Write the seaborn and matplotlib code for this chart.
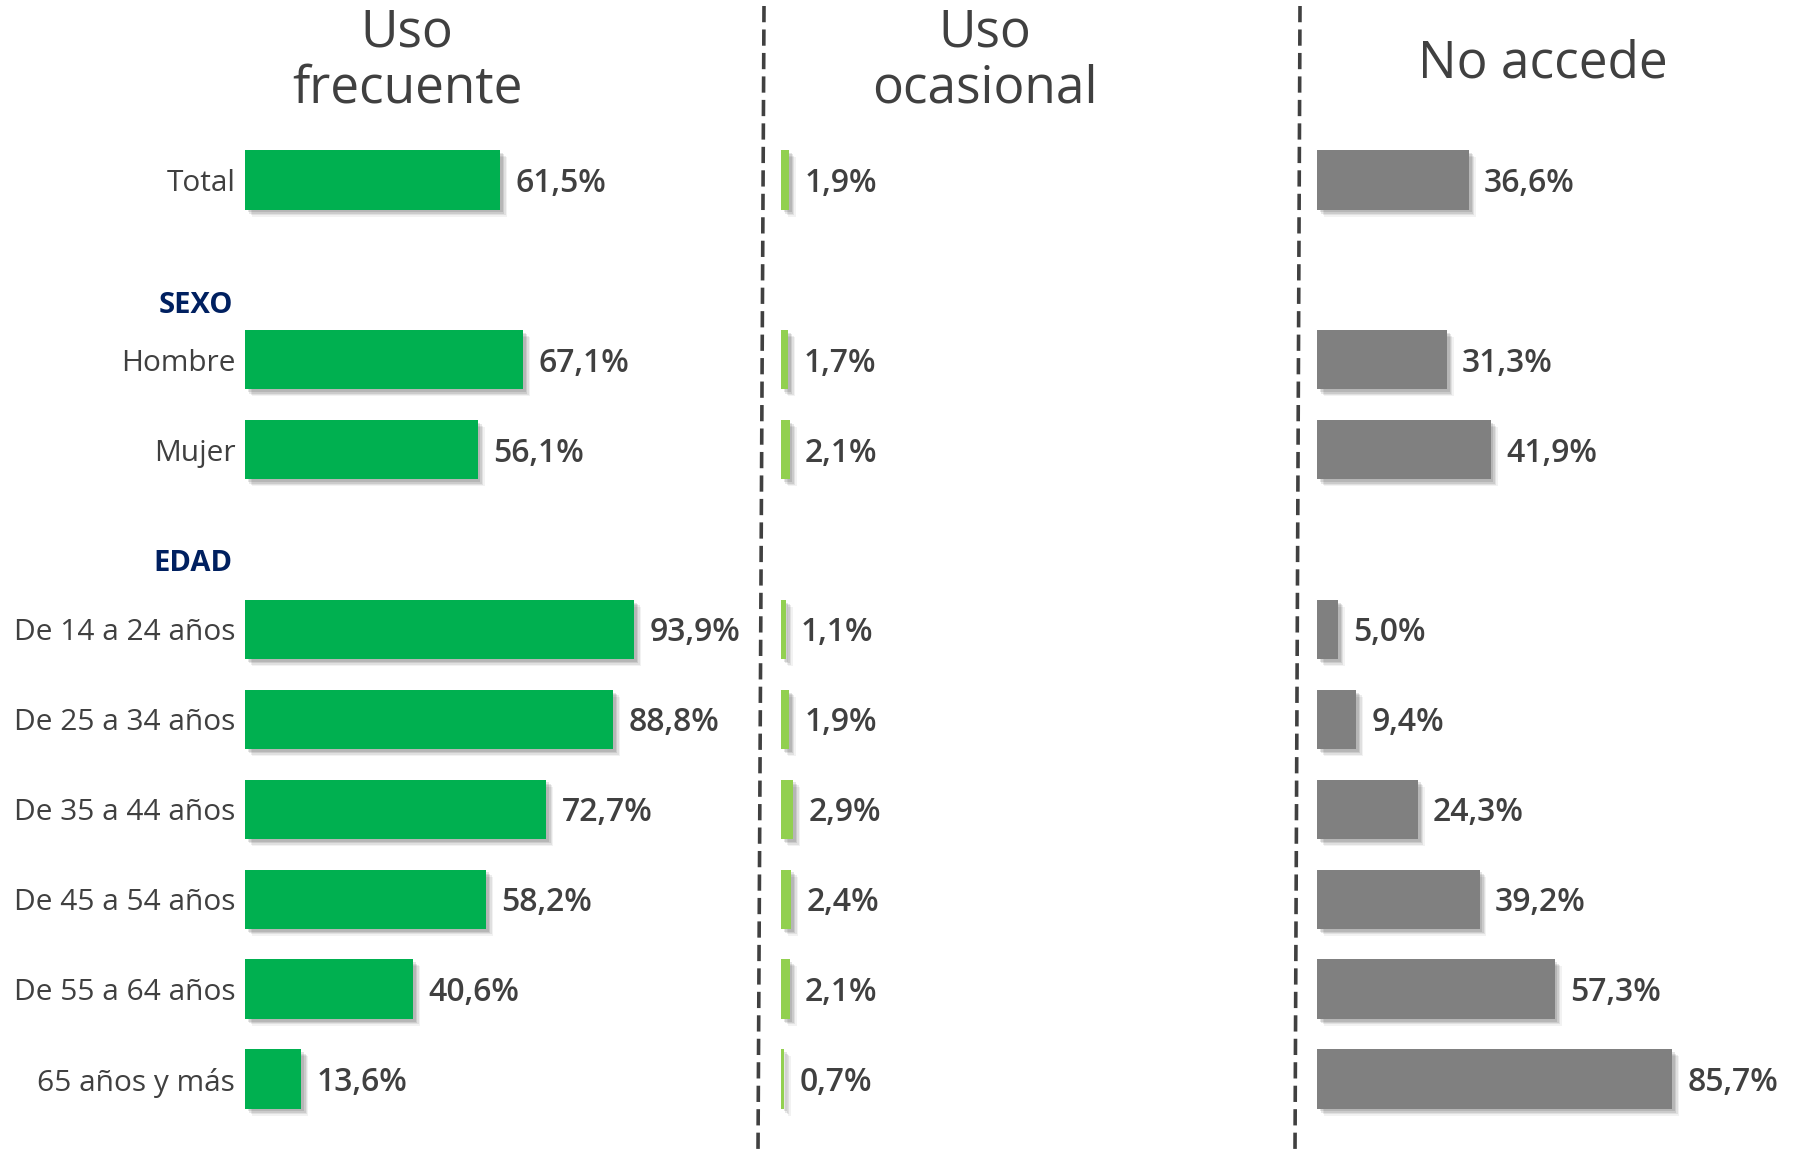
import numpy as np
import pandas as pd
import matplotlib
matplotlib.use("Agg")
import matplotlib.pyplot as plt
import matplotlib.patheffects as pe
import matplotlib.transforms as mtrans
from matplotlib.lines import Line2D
import seaborn as sns

# ---- data ----
categories = ["Total", "Hombre", "Mujer", "De 14 a 24 años", "De 25 a 34 años",
              "De 35 a 44 años", "De 45 a 54 años", "De 55 a 64 años", "65 años y más"]
uso_frecuente = [61.5, 67.1, 56.1, 93.9, 88.8, 72.7, 58.2, 40.6, 13.6]
uso_ocasional = [1.9, 1.7, 2.1, 1.1, 1.9, 2.9, 2.4, 2.1, 0.7]
no_accede = [36.6, 31.3, 41.9, 5.0, 9.4, 24.3, 39.2, 57.3, 85.7]
panel_titles = ["Uso\nfrecuente", "Uso\nocasional", "No accede"]
group_labels = ["SEXO", "EDAD"]

# row order with empty slots between groups
order = ["Total", "gap1", "Hombre", "Mujer", "gap2", "De 14 a 24 años", "De 25 a 34 años",
         "De 35 a 44 años", "De 45 a 54 años", "De 55 a 64 años", "65 años y más"]
tick_labels = [c if not c.startswith("gap") else "" for c in order]

sns.set_theme(style="white")
plt.rcParams["font.family"] = ["Open Sans", "DejaVu Sans"]

TXT = "#404040"
NAVY = "#002060"
colors = ["#00B050", "#92D050", "#808080"]

W, H = 1796, 1153
fig = plt.figure(figsize=(W / 100, H / 100), dpi=100)

scale = 4.146  # px per percent
ax_w = 100 * scale / W
top = 1 - 135 / H
bot = 1 - 1124 / H
lefts = [245 / W, 781 / W, 1317 / W]
series = [uso_frecuente, uso_ocasional, no_accede]

shadow = [pe.SimplePatchShadow(offset=(o, -o), shadow_rgbFace="#000000", alpha=a)
          for o, a in [(5, 0.05), (4, 0.07), (3, 0.09), (2, 0.1)]] + [pe.Normal()]

axes = []
for i, (lft, vals, col) in enumerate(zip(lefts, series, colors)):
    ax = fig.add_axes([lft, bot, ax_w, top - bot])
    df = pd.DataFrame({"cat": categories, "value": vals})
    sns.barplot(data=df, y="cat", x="value", order=order, color=col, width=0.66,
                orient="h", ax=ax, saturation=1)
    for p in ax.patches:
        p.set_path_effects(shadow)
        p.set_edgecolor("none")
    ax.set_xlim(0, 100)
    ax.set_ylim(10.5, -0.5)
    ax.set_xlabel("")
    ax.set_ylabel("")
    ax.set_xticks([])
    for s in ax.spines.values():
        s.set_visible(False)
    if i == 0:
        ax.set_yticks(range(len(order)))
        ax.set_yticklabels(tick_labels, fontsize=21.5, color=TXT, fontweight="medium")
        ax.tick_params(axis="y", length=0, pad=7)
    else:
        ax.set_yticks([])
    pos_map = {c: k for k, c in enumerate(order)}
    for c, v in zip(categories, vals):
        lbl = f"{v:.1f}".replace(".", ",") + "%"
        ax.annotate(lbl, xy=(v, pos_map[c]), xytext=(11, -2.5), textcoords="offset points",
                    va="center", ha="left", fontsize=23, color=TXT, fontweight="semibold",
                    annotation_clip=False)
    axes.append(ax)

# group labels
ax0 = axes[0]
trans = mtrans.blended_transform_factory(fig.transFigure, ax0.transData)
ax0.text(233 / W, 1.40, group_labels[0], transform=trans, ha="right", va="center",
         fontsize=21, fontweight="bold", color=NAVY)
ax0.text(233 / W, 4.27, group_labels[1], transform=trans, ha="right", va="center",
         fontsize=21, fontweight="bold", color=NAVY)

# titles
fig.text(407 / W, 1 - 61 / H, panel_titles[0], ha="center", va="center", fontsize=37,
         color=TXT, linespacing=1.12)
fig.text(985 / W, 1 - 61 / H, panel_titles[1], ha="center", va="center", fontsize=37,
         color=TXT, linespacing=1.12)
fig.text(1543 / W, 1 - 64 / H, panel_titles[2], ha="center", va="center", fontsize=37,
         color=TXT)

# dashed separators
for xt, xb in [(764, 758), (1300, 1295)]:
    fig.add_artist(Line2D([xt / W, xb / W], [1 - 6 / H, 0], transform=fig.transFigure,
                          color="#404040", lw=2.6, linestyle=(0, (4.5, 2))))

fig.savefig("out.png", dpi=100)
